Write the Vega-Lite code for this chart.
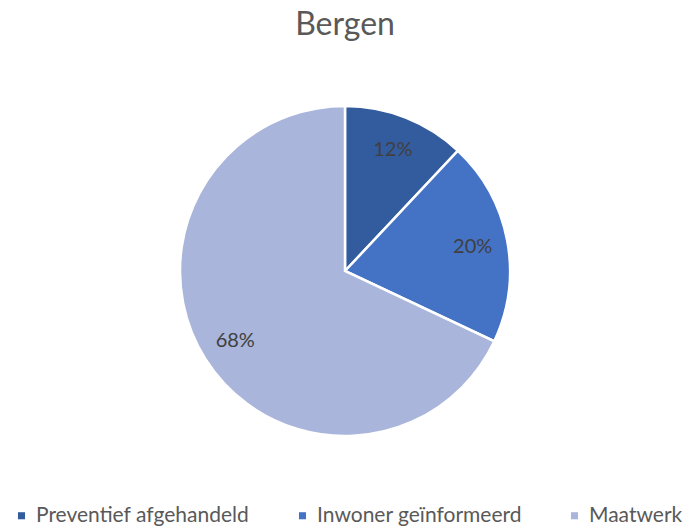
{
  "$schema": "https://vega.github.io/schema/vega-lite/v6.json",
  "autosize": "none",
  "padding": 0,
  "width": 690,
  "height": 542,
  "background": "white",
  "title": {
    "text": "Bergen",
    "anchor": "middle",
    "frame": "group",
    "offset": -42,
    "font": "Lato",
    "fontSize": 32,
    "fontWeight": "normal",
    "color": "#595959"
  },
  "data": {
    "values": [
      {"category": "Preventief afgehandeld", "share": 0.12},
      {"category": "Inwoner geïnformeerd", "share": 0.20},
      {"category": "Maatwerk", "share": 0.68}
    ]
  },
  "encoding": {
    "theta": {"field": "share", "type": "quantitative", "stack": true},
    "order": {"field": "share", "type": "quantitative", "sort": "ascending"},
    "color": {
      "field": "category",
      "type": "nominal",
      "scale": {
        "domain": ["Preventief afgehandeld", "Inwoner geïnformeerd", "Maatwerk"],
        "range": ["#335C9F", "#4472C4", "#A9B5DA"]
      },
      "legend": {
        "title": null,
        "orient": "none",
        "direction": "horizontal",
        "legendX": 11,
        "legendY": 505,
        "symbolType": "square",
        "symbolSize": 50,
        "symbolStrokeWidth": 0,
        "labelFont": "Lato",
        "labelFontSize": 21,
        "labelColor": "#595959",
        "labelOffset": 4,
        "columnPadding": 42,
        "labelLimit": 400
      }
    }
  },
  "layer": [
    {
      "mark": {"type": "arc", "radius": 165, "stroke": "white", "strokeWidth": 2.5}
    },
    {
      "mark": {"type": "text", "radius": 130, "font": "Lato", "fontSize": 20, "color": "#404040"},
      "encoding": {
        "text": {"field": "share", "type": "quantitative", "format": ".0%"},
        "color": {"value": "#404040"}
      }
    }
  ]
}
